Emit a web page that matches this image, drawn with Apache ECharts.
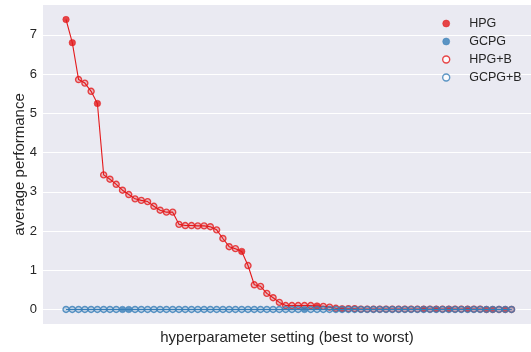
<!DOCTYPE html>
<html>
<head>
<meta charset="utf-8">
<script src="https://cdn.jsdelivr.net/npm/echarts@6/dist/echarts.min.js"></script>
<style>
  html, body { margin: 0; padding: 0; background: #ffffff; }
  #chart { width: 531px; height: 352px; }
</style>
</head>
<body>
<div id="chart"></div>
<script>
// Hyperparameter settings, ranked best to worst
const settings = [
  0, 1, 2, 3, 4, 5, 6, 7, 8, 9, 10, 11, 12, 13, 14, 15, 16, 17,
  18, 19, 20, 21, 22, 23, 24, 25, 26, 27, 28, 29, 30, 31, 32, 33, 34, 35,
  36, 37, 38, 39, 40, 41, 42, 43, 44, 45, 46, 47, 48, 49, 50, 51, 52, 53,
  54, 55, 56, 57, 58, 59, 60, 61, 62, 63, 64, 65, 66, 67, 68, 69, 70, 71
];

// Average performance of the HPG family at each setting
const hpgValues = [
  7.39, 6.80, 5.86, 5.77, 5.56, 5.25, 3.43, 3.32, 3.19, 3.04, 2.93, 2.82,
  2.78, 2.75, 2.63, 2.53, 2.48, 2.48, 2.17, 2.14, 2.14, 2.13, 2.13, 2.11,
  2.03, 1.81, 1.60, 1.55, 1.48, 1.12, 0.63, 0.59, 0.41, 0.30, 0.18, 0.10,
  0.10, 0.10, 0.10, 0.10, 0.09, 0.08, 0.06, 0.03, 0.02, 0.02, 0.02, 0.01,
  0.01, 0.01, 0.01, 0.01, 0.01, 0.01, 0.01, 0.01, 0.01, 0.01, 0.01, 0.01,
  0.01, 0.01, 0.01, 0.01, 0.01, 0.01, 0.01, 0.00, 0.00, 0.00, 0.00, 0.00
];
// Which variant produced each HPG point
const hpgVariant = [
  'HPG', 'HPG', 'HPG+B', 'HPG+B', 'HPG+B', 'HPG', 'HPG+B', 'HPG+B', 'HPG+B', 'HPG+B', 'HPG+B', 'HPG+B',
  'HPG+B', 'HPG+B', 'HPG+B', 'HPG+B', 'HPG+B', 'HPG+B', 'HPG+B', 'HPG+B', 'HPG+B', 'HPG+B', 'HPG+B', 'HPG+B',
  'HPG+B', 'HPG+B', 'HPG+B', 'HPG+B', 'HPG', 'HPG+B', 'HPG+B', 'HPG+B', 'HPG+B', 'HPG+B', 'HPG+B', 'HPG+B',
  'HPG+B', 'HPG+B', 'HPG+B', 'HPG+B', 'HPG', 'HPG+B', 'HPG+B', 'HPG+B', 'HPG', 'HPG+B', 'HPG+B', 'HPG+B',
  'HPG+B', 'HPG+B', 'HPG+B', 'HPG+B', 'HPG+B', 'HPG+B', 'HPG+B', 'HPG+B', 'HPG+B', 'HPG', 'HPG+B', 'HPG',
  'HPG+B', 'HPG', 'HPG+B', 'HPG+B', 'HPG', 'HPG+B', 'HPG+B', 'HPG', 'HPG', 'HPG+B', 'HPG', 'HPG+B'
];

// Average performance of the GCPG family at each setting
const gcpgValues = [
  0.00, 0.00, 0.00, 0.00, 0.00, 0.00, 0.00, 0.00, 0.00, 0.00, 0.00, 0.00,
  0.00, 0.00, 0.00, 0.00, 0.00, 0.00, 0.00, 0.00, 0.00, 0.00, 0.00, 0.00,
  0.00, 0.00, 0.00, 0.00, 0.00, 0.00, 0.00, 0.00, 0.00, 0.00, 0.00, 0.00,
  0.00, 0.00, 0.00, 0.00, 0.00, 0.00, 0.00, 0.00, 0.00, 0.00, 0.00, 0.00,
  0.00, 0.00, 0.00, 0.00, 0.00, 0.00, 0.00, 0.00, 0.00, 0.00, 0.00, 0.00,
  0.00, 0.00, 0.00, 0.00, 0.00, 0.00, 0.00, 0.00, 0.00, 0.00, 0.00, 0.00
];
const gcpgVariant = [
  'GCPG+B', 'GCPG+B', 'GCPG+B', 'GCPG+B', 'GCPG+B', 'GCPG+B', 'GCPG+B', 'GCPG+B', 'GCPG+B', 'GCPG', 'GCPG', 'GCPG+B',
  'GCPG+B', 'GCPG+B', 'GCPG+B', 'GCPG+B', 'GCPG+B', 'GCPG+B', 'GCPG+B', 'GCPG+B', 'GCPG+B', 'GCPG+B', 'GCPG+B', 'GCPG+B',
  'GCPG+B', 'GCPG+B', 'GCPG+B', 'GCPG+B', 'GCPG+B', 'GCPG+B', 'GCPG+B', 'GCPG+B', 'GCPG+B', 'GCPG+B', 'GCPG+B', 'GCPG+B',
  'GCPG+B', 'GCPG+B', 'GCPG', 'GCPG+B', 'GCPG+B', 'GCPG+B', 'GCPG+B', 'GCPG+B', 'GCPG+B', 'GCPG+B', 'GCPG+B', 'GCPG+B',
  'GCPG+B', 'GCPG+B', 'GCPG+B', 'GCPG+B', 'GCPG+B', 'GCPG+B', 'GCPG+B', 'GCPG+B', 'GCPG+B', 'GCPG+B', 'GCPG+B', 'GCPG+B',
  'GCPG+B', 'GCPG+B', 'GCPG+B', 'GCPG+B', 'GCPG+B', 'GCPG+B', 'GCPG+B', 'GCPG+B', 'GCPG+B', 'GCPG+B', 'GCPG+B', 'GCPG+B'
];

const yTickValues = [0, 1, 2, 3, 4, 5, 6, 7];

const RED = '#e41a1c';
const BLUE = '#377eb8';
const TEXT = '#262626';
const FONT = '"Liberation Sans", Arial, sans-serif';

function pointsOf(values, variants, name) {
  const out = [];
  settings.forEach((s, i) => { if (variants[i] === name) out.push([s, values[i]]); });
  return out;
}
function linePoints(values) {
  return settings.map((s, i) => [s, values[i]]);
}

const filledStyle = c => ({ color: c, borderColor: c, borderWidth: 0.6 });
const openStyle = (c, fill) => ({ color: fill, borderColor: c, borderWidth: 1.4 });

const chart = echarts.init(document.getElementById('chart'), null, { renderer: 'canvas' });
chart.setOption({
  animation: false,
  backgroundColor: '#ffffff',
  grid: {
    left: 43, right: 0, top: 5, bottom: 28,
    outerBoundsMode: 'none',
    containLabel: false,
    show: true, backgroundColor: '#eaeaf2', borderWidth: 0
  },
  legend: {
    orient: 'vertical',
    left: 437, top: 12,
    itemWidth: 36, itemHeight: 7, itemGap: 5,
    icon: 'circle',
    textStyle: { color: TEXT, fontSize: 12.5, fontFamily: FONT, lineHeight: 12 },
    data: [
      { name: 'HPG', itemStyle: filledStyle(RED) },
      { name: 'GCPG', itemStyle: filledStyle(BLUE) },
      { name: 'HPG+B', itemStyle: { color: '#ffffff', borderColor: RED, borderWidth: 1.4 } },
      { name: 'GCPG+B', itemStyle: { color: '#ffffff', borderColor: BLUE, borderWidth: 1.4 } }
    ]
  },
  xAxis: {
    type: 'value',
    min: -3.67, max: 74.1,
    axisLine: { show: false }, axisTick: { show: false },
    axisLabel: { show: false }, splitLine: { show: false },
    name: 'hyperparameter setting (best to worst)',
    nameLocation: 'middle', nameGap: 6,
    nameTextStyle: { color: TEXT, fontSize: 15, fontFamily: FONT, verticalAlign: 'top' }
  },
  yAxis: {
    type: 'value',
    min: -0.37, max: 7.76,
    axisLine: { show: false },
    axisTick: { show: false, customValues: yTickValues },
    axisLabel: { customValues: yTickValues, color: TEXT, fontSize: 13, fontFamily: FONT, margin: 6 },
    splitLine: { show: true, lineStyle: { color: '#ffffff', width: 1.2 } },
    name: 'average performance',
    nameLocation: 'middle', nameGap: 16,
    nameMoveOverlap: false,
    nameTextStyle: { color: TEXT, fontSize: 15, fontFamily: FONT }
  },
  series: [
    {
      name: 'HPG line', type: 'line', data: linePoints(hpgValues),
      showSymbol: false, lineStyle: { color: RED, width: 1.1 }, z: 2, silent: true
    },
    {
      name: 'HPG+B', type: 'scatter', data: pointsOf(hpgValues, hpgVariant, 'HPG+B'),
      symbol: 'circle', symbolSize: 6, itemStyle: openStyle(RED, 'rgba(228,26,28,0.3)'), z: 3
    },
    {
      name: 'HPG', type: 'scatter', data: pointsOf(hpgValues, hpgVariant, 'HPG'),
      symbol: 'circle', symbolSize: 6.5, itemStyle: filledStyle(RED), z: 3
    },
    {
      name: 'GCPG line', type: 'line', data: linePoints(gcpgValues),
      showSymbol: false, lineStyle: { color: BLUE, width: 1.1 }, z: 4, silent: true
    },
    {
      name: 'GCPG+B', type: 'scatter', data: pointsOf(gcpgValues, gcpgVariant, 'GCPG+B'),
      symbol: 'circle', symbolSize: 6, itemStyle: openStyle(BLUE, 'rgba(55,126,184,0.3)'), z: 5
    },
    {
      name: 'GCPG', type: 'scatter', data: pointsOf(gcpgValues, gcpgVariant, 'GCPG'),
      symbol: 'circle', symbolSize: 6.5, itemStyle: filledStyle(BLUE), z: 5
    }
  ]
});
</script>
</body>
</html>
